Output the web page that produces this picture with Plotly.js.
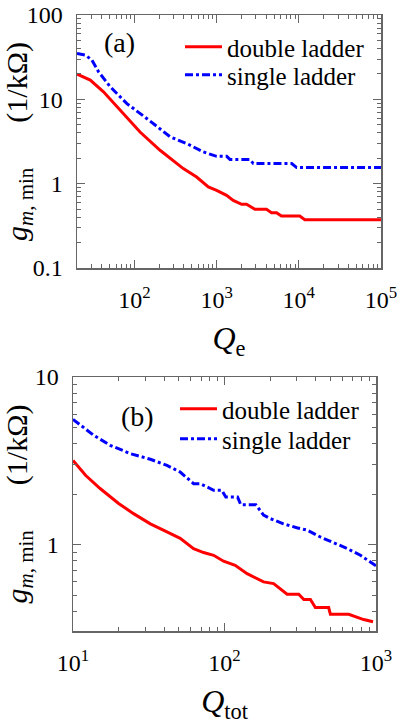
<!DOCTYPE html>
<html>
<head>
<meta charset="utf-8">
<script src="https://cdn.plot.ly/plotly-3.0.1.min.js"></script>
<style>html,body{margin:0;padding:0;background:#fff;}#chart{width:399px;height:724px;}</style>
</head>
<body>
<div id="chart"></div>
<script>
// Panel (a): g_m,min vs Q_e
const qeDouble = [20, 29, 42, 67, 81, 117, 205, 393, 571, 792, 1000, 1322, 1592, 2014, 2311, 2924, 4044, 4652, 5354, 6150, 10270, 11830, 100000];
const gDoubleA = [19.9, 16.9, 12.3, 7.45, 6.0, 4.1, 2.49, 1.51, 1.20, 0.913, 0.833, 0.727, 0.634, 0.569, 0.569, 0.496, 0.496, 0.453, 0.453, 0.413, 0.413, 0.374, 0.374];
const qeSingle = [20, 25.2, 30.3, 36.6, 50.7, 81, 150, 272, 433, 690, 1000, 1327, 1457, 2547, 2797, 8190, 9420, 100000];
const gSingleA = [35.1, 33.5, 29.3, 21.2, 14.1, 8.9, 5.66, 3.59, 2.99, 2.38, 2.11, 2.11, 1.93, 1.93, 1.73, 1.73, 1.55, 1.55];

// Panel (b): g_m,min vs Q_tot
const qtDouble = [10, 12.1, 15.1, 20, 25.1, 32.4, 41.7, 51, 62.5, 72.8, 84.8, 98.6, 117.6, 141, 181, 211, 259, 309, 334, 369, 398, 487, 500, 661, 829, 956];
const gDoubleB = [3.18, 2.59, 2.16, 1.76, 1.53, 1.33, 1.19, 1.09, 0.946, 0.896, 0.863, 0.796, 0.753, 0.671, 0.599, 0.585, 0.506, 0.506, 0.47, 0.47, 0.421, 0.421, 0.384, 0.384, 0.357, 0.346];
const qtSingle = [10, 13.7, 17.6, 23.9, 32.4, 41.7, 51, 62.5, 69.2, 84.8, 96, 102, 122, 128, 161, 181, 200, 245, 300, 351, 429, 525, 645, 789, 1000];
const gSingleB = [5.59, 4.49, 3.91, 3.49, 3.23, 2.97, 2.71, 2.31, 2.31, 2.11, 2.11, 1.92, 1.92, 1.73, 1.73, 1.50, 1.43, 1.33, 1.26, 1.22, 1.11, 1.03, 0.947, 0.864, 0.746];

const seriesNames = ['double ladder', 'single ladder'];
const xTickValsA = [100, 1000, 10000, 100000];
const xTickTextA = ['10<sup>2</sup>', '10<sup>3</sup>', '10<sup>4</sup>', '10<sup>5</sup>'];
const yTickValsA = [0.1, 1, 10, 100];
const yTickTextA = ['0.1', '1', '10', '100'];
const xTickValsB = [10, 100, 1000];
const xTickTextB = ['10<sup>1</sup>', '10<sup>2</sup>', '10<sup>3</sup>'];
const yTickValsB = [1, 10];
const yTickTextB = ['1', '10'];

const FONT = '"Liberation Serif", serif';
const RED = '#ff0000', BLUE = '#0000ff';
const DASH = '8px,3px,3px,3px';

const traces = [
  {x: qeDouble, y: gDoubleA, xaxis: 'x', yaxis: 'y', name: seriesNames[0], mode: 'lines', line: {color: RED, width: 3}, legend: 'legend'},
  {x: qeSingle, y: gSingleA, xaxis: 'x', yaxis: 'y', name: seriesNames[1], mode: 'lines', line: {color: BLUE, width: 3, dash: DASH}, legend: 'legend2'},
  {x: qtDouble, y: gDoubleB, xaxis: 'x2', yaxis: 'y2', name: seriesNames[0], mode: 'lines', line: {color: RED, width: 3}, legend: 'legend3'},
  {x: qtSingle, y: gSingleB, xaxis: 'x2', yaxis: 'y2', name: seriesNames[1], mode: 'lines', line: {color: BLUE, width: 3, dash: DASH}, legend: 'legend4'}
];

function axBase() {
  return {
    type: 'log', showgrid: false, zeroline: false,
    showline: true, linecolor: '#666', linewidth: 1.5, mirror: 'ticks',
    ticks: 'inside', ticklen: 8, tickwidth: 1.2, tickcolor: '#666',
    minor: {ticks: 'inside', ticklen: 4, tickwidth: 1, tickcolor: '#666', dtick: 'D1', showgrid: false},
    tickfont: {family: FONT, size: 24, color: '#000'},
    tickmode: 'array'
  };
}

const ytitle = '\u00a0\u00a0\u00a0<i>g</i><sub><i>m</i>, min</sub>\u2003\u2002(1/kΩ)';

function leg(xpx, ypx) {
  return {
    x: xpx/399, y: 1 - ypx/724, xanchor: 'left', yanchor: 'middle',
    bgcolor: 'rgba(0,0,0,0)', borderwidth: 0,
    font: {family: FONT, size: 25, color: '#000'}, itemwidth: 37
  };
}

const layout = {
  width: 399, height: 724,
  margin: {l: 0, r: 0, t: 0, b: 0},
  paper_bgcolor: '#fff', plot_bgcolor: '#fff',
  font: {family: FONT, color: '#000', size: 24},
  xaxis: Object.assign(axBase(), {
    domain: [77/399, 381/399], anchor: 'y',
    range: [Math.log10(20), 5],
    tickvals: xTickValsA, ticktext: xTickTextA, ticklabelstandoff: 10,
    title: {text: '<i>Q</i><sub>e</sub>', font: {family: FONT, size: 32}, standoff: 14}
  }),
  yaxis: Object.assign(axBase(), {
    domain: [1 - 268/724, 1 - 15/724], anchor: 'x',
    range: [-1, 2],
    tickvals: yTickValsA, ticktext: yTickTextA, ticklabelstandoff: 8,
    title: {text: ytitle, font: {family: FONT, size: 30}, standoff: 0}
  }),
  xaxis2: Object.assign(axBase(), {
    domain: [73/399, 376/399], anchor: 'y2',
    range: [1, 3],
    tickvals: xTickValsB, ticktext: xTickTextB, ticklabelstandoff: 10,
    title: {text: '<i>Q</i><sub>tot</sub>', font: {family: FONT, size: 32}, standoff: 14}
  }),
  yaxis2: Object.assign(axBase(), {
    domain: [1 - 631/724, 1 - 377/724], anchor: 'x2',
    range: [Math.log10(0.305), 1],
    tickvals: yTickValsB, ticktext: yTickTextB, ticklabelstandoff: 8,
    title: {text: ytitle, font: {family: FONT, size: 30}, standoff: 0}
  }),
  legend: leg(180, 47),
  legend2: leg(180, 75),
  legend3: leg(175, 409),
  legend4: leg(175, 439),
  showlegend: true,
  annotations: [
    {text: '(a)', xref: 'paper', yref: 'paper', x: 119/399, y: 1 - 43/724, xanchor: 'center', yanchor: 'middle', showarrow: false, font: {family: FONT, size: 28, color: '#000'}},
    {text: '(b)', xref: 'paper', yref: 'paper', x: 137/399, y: 1 - 417/724, xanchor: 'center', yanchor: 'middle', showarrow: false, font: {family: FONT, size: 28, color: '#000'}}
  ]
};

Plotly.newPlot('chart', traces, layout, {displayModeBar: false, staticPlot: true});
</script>
</body>
</html>
